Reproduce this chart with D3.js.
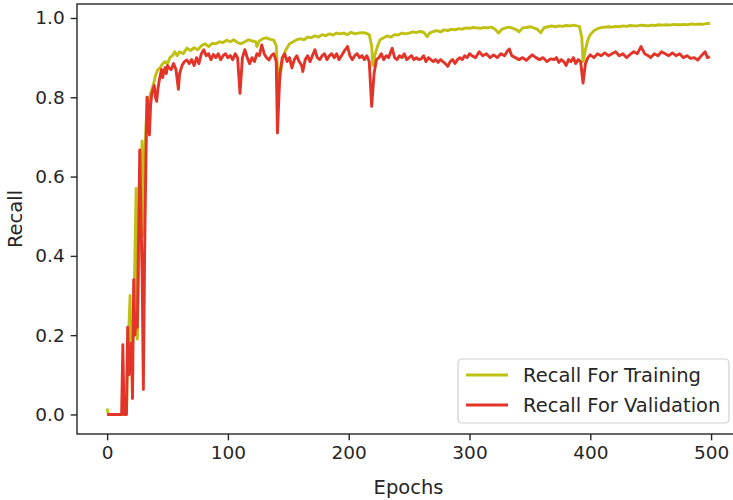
<!DOCTYPE html>
<html>

<head>
    <meta charset="utf-8">
    <style>
        body {
            margin: 0;
            background: #fff;
        }

        svg {
            font-family: 'DejaVu Sans', sans-serif;
        }

        .tick text {
            font-size: 18.5px;
            fill: #262626;
        }

        .tick line {
            stroke: #262626;
            stroke-width: 1.4px;
        }

        .axis-label {
            font-size: 19.5px;
            fill: #262626;
        }

        .legend-label {
            font-size: 19.5px;
            fill: #262626;
        }
    </style>
</head>

<body>
    <svg width="733" height="500"></svg>
</body>

<script src="https://d3js.org/d3.v7.min.js"></script>

<script>
    // recall per epoch
    let trainEpochs = [0, 1, 14, 15, 16, 17, 18, 19, 20, 21, 22, 23, 24, 25, 26, 27, 28, 29, 30, 31, 32, 33, 34, 35, 36, 37, 38, 39, 40,
        42, 44, 46, 48, 50, 52, 54, 56, 58, 60, 63, 66, 69, 72, 75, 78, 81, 84, 87, 90, 93, 96, 99, 102, 105, 108, 111, 114, 117, 120,
        123, 124, 126, 129, 132, 135, 138, 140, 142, 144, 146, 148, 151, 154, 157, 160, 163, 166, 169, 172, 175, 178, 181, 184, 187,
        190, 193, 196, 199, 202, 205, 208, 211, 214, 217, 219, 220, 222, 224, 226, 229, 232, 235, 238, 241, 244, 247, 250, 253, 256,
        259, 262, 265, 267, 270, 273, 276, 279, 282, 285, 288, 291, 294, 297, 300, 303, 306, 309, 312, 315, 318, 321, 324, 327, 330,
        333, 336, 339, 341, 344, 347, 350, 353, 356, 359, 362, 365, 368, 371, 374, 377, 380, 383, 386, 389, 391, 393, 394, 396, 398,
        400, 403, 406, 409, 412, 415, 418, 421, 424, 427, 430, 433, 436, 439, 442, 445, 448, 451, 454, 457, 460, 463, 466, 469, 472,
        475, 478, 481, 484, 487, 490, 493, 496, 499]
    let trainRecall = [0.015, 0.0, 0.0, 0.05, 0.0, 0.15, 0.22, 0.30, 0.12, 0.18, 0.25, 0.40, 0.57, 0.19, 0.35, 0.50, 0.62, 0.69, 0.45, 0.62, 0.72, 0.78, 0.80, 0.79, 0.81, 0.82, 0.83, 0.84, 0.855,
        0.87, 0.875, 0.885, 0.89, 0.885, 0.90, 0.905, 0.915, 0.905, 0.915, 0.91, 0.924, 0.918, 0.925, 0.92, 0.93, 0.935, 0.928, 0.936, 0.935, 0.94, 0.938, 0.944, 0.94, 0.945, 0.938, 0.935, 0.94, 0.945, 0.942,
        0.94, 0.928, 0.942, 0.948, 0.95, 0.946, 0.944, 0.93, 0.82, 0.87, 0.905, 0.92, 0.935, 0.94, 0.945, 0.948, 0.945, 0.952, 0.95, 0.955, 0.952, 0.958, 0.955, 0.96, 0.957,
        0.962, 0.96, 0.962, 0.958, 0.964, 0.96, 0.962, 0.963, 0.962, 0.958, 0.93, 0.88, 0.91, 0.93, 0.945, 0.95, 0.955, 0.952, 0.958, 0.957, 0.962, 0.96, 0.962, 0.965, 0.963,
        0.966, 0.964, 0.953, 0.962, 0.966, 0.968, 0.965, 0.97, 0.968, 0.972, 0.97, 0.973, 0.972, 0.975, 0.974, 0.976, 0.975, 0.974, 0.976, 0.975, 0.977, 0.972, 0.962, 0.972, 0.975,
        0.977, 0.974, 0.97, 0.965, 0.975, 0.976, 0.978, 0.975, 0.972, 0.963, 0.976, 0.978, 0.98, 0.978, 0.98, 0.979, 0.981, 0.98, 0.982, 0.98, 0.979, 0.95, 0.89, 0.92, 0.945,
        0.958, 0.968, 0.973, 0.976, 0.977, 0.978, 0.977, 0.979, 0.978, 0.98, 0.979, 0.981, 0.98, 0.98, 0.982, 0.981, 0.98, 0.982, 0.981, 0.983, 0.982, 0.983, 0.982, 0.984, 0.983,
        0.983, 0.984, 0.983, 0.985, 0.984, 0.985, 0.984, 0.986, 0.986]

    let valEpochs = [0, 12, 13, 14, 15, 16, 17, 18, 19, 20, 21, 22, 23, 24, 25, 26, 27, 28, 29, 30, 31, 32, 33, 34, 35, 36, 37, 38, 39, 40,
        41, 42, 43, 44, 45, 46, 47, 48, 49, 50, 51, 53, 55, 57, 59, 60, 62, 64, 66, 68, 70, 72, 74, 76, 78, 80, 82, 84, 86, 88, 90, 92,
        94, 96, 98, 100, 102, 104, 106, 108, 110, 112, 114, 116, 118, 120, 122, 124, 126, 128, 130, 132, 134, 136, 138, 140, 141, 143,
        145, 147, 149, 151, 153, 155, 157, 159, 161, 162, 164, 166, 168, 170, 172, 174, 176, 178, 180, 182, 184, 186, 188, 190, 192, 194,
        196, 199, 201, 203, 205, 207, 209, 211, 213, 215, 217, 219, 221, 223, 225, 227, 229, 231, 233, 236, 238, 240, 242, 244, 246, 248,
        250, 252, 254, 256, 258, 260, 262, 264, 266, 268, 270, 272, 274, 276, 278, 280, 282, 284, 286, 288, 290, 292, 294, 296, 298, 300,
        302, 305, 308, 311, 314, 317, 320, 323, 326, 329, 331, 333, 335, 338, 341, 344, 347, 350, 352, 355, 358, 361, 364, 367, 370, 372,
        374, 376, 378, 380, 382, 384, 386, 388, 390, 392, 394, 396, 398, 400, 403, 406, 409, 412, 415, 418, 421, 424, 427, 430, 433, 436,
        439, 442, 445, 448, 450, 453, 456, 459, 462, 465, 468, 471, 474, 477, 480, 483, 486, 489, 492, 495, 497, 499]
    let valRecall = [0.0, 0.0, 0.176, 0.0, 0.0, 0.0, 0.22, 0.10, 0.12, 0.18, 0.04, 0.34, 0.20, 0.25, 0.22, 0.45, 0.667, 0.50, 0.35, 0.063, 0.40, 0.62, 0.80, 0.78, 0.705, 0.78, 0.81, 0.82, 0.83, 0.80,
        0.79, 0.82, 0.84, 0.855, 0.87, 0.85, 0.865, 0.875, 0.86, 0.88, 0.875, 0.87, 0.885, 0.87, 0.82, 0.86, 0.88, 0.89, 0.894, 0.885, 0.895, 0.88, 0.90, 0.885, 0.91, 0.92, 0.905, 0.91, 0.895, 0.908, 0.90, 0.91,
        0.895, 0.905, 0.91, 0.90, 0.905, 0.895, 0.91, 0.90, 0.81, 0.90, 0.92, 0.90, 0.885, 0.90, 0.89, 0.91, 0.905, 0.932, 0.91, 0.90, 0.894, 0.905, 0.91, 0.89, 0.71, 0.86,
        0.90, 0.91, 0.89, 0.90, 0.874, 0.895, 0.905, 0.89, 0.88, 0.865, 0.895, 0.905, 0.89, 0.905, 0.92, 0.90, 0.895, 0.905, 0.91, 0.895, 0.905, 0.91, 0.90, 0.91, 0.895, 0.905,
        0.915, 0.928, 0.905, 0.895, 0.905, 0.91, 0.90, 0.905, 0.895, 0.905, 0.89, 0.777, 0.86, 0.895, 0.90, 0.91, 0.895, 0.905, 0.90, 0.924, 0.90, 0.895, 0.905, 0.90, 0.91, 0.895,
        0.90, 0.905, 0.895, 0.90, 0.895, 0.897, 0.905, 0.89, 0.90, 0.895, 0.89, 0.895, 0.888, 0.895, 0.89, 0.885, 0.878, 0.89, 0.895, 0.885, 0.895, 0.90, 0.895, 0.905, 0.90, 0.91,
        0.905, 0.90, 0.915, 0.905, 0.91, 0.90, 0.907, 0.90, 0.91, 0.905, 0.915, 0.922, 0.905, 0.90, 0.895, 0.90, 0.893, 0.902, 0.907, 0.90, 0.895, 0.90, 0.89, 0.897, 0.895, 0.90,
        0.888, 0.895, 0.89, 0.88, 0.895, 0.89, 0.90, 0.885, 0.895, 0.89, 0.836, 0.885, 0.90, 0.907, 0.90, 0.91, 0.905, 0.912, 0.905, 0.91, 0.915, 0.905, 0.91, 0.90, 0.908, 0.915,
        0.91, 0.928, 0.91, 0.905, 0.90, 0.91, 0.905, 0.915, 0.91, 0.905, 0.912, 0.905, 0.91, 0.90, 0.905, 0.898, 0.90, 0.894, 0.905, 0.915, 0.90, 0.903]

    let xTicks = [0, 100, 200, 300, 400, 500]
    let yTicks = [0.0, 0.2, 0.4, 0.6, 0.8, 1.0]
    let seriesNames = ["Recall For Training", "Recall For Validation"]
    let seriesColors = ["#c0c012", "#e3342a"]

    let svg = d3.select("svg")

    // axes box in pixels (right edge runs past the picture, like the original crop)
    let box = { left: 77, right: 740, top: 4, bottom: 434 }

    let x = d3.scaleLinear()
        .domain([-24.95, 523.95])
        .range([box.left, box.right])

    let y = d3.scaleLinear()
        .domain([-0.0493, 1.0353])
        .range([box.bottom, box.top])

    let series = [
        { name: seriesNames[0], values: trainEpochs.map((e, i) => ({ e: e, v: trainRecall[i] })) },
        { name: seriesNames[1], values: valEpochs.map((e, i) => ({ e: e, v: valRecall[i] })) }
    ]

    let color = d3.scaleOrdinal()
        .domain(seriesNames)
        .range(seriesColors)

    svg.append("clipPath")
        .attr("id", "plot-clip")
        .append("rect")
        .attr("x", box.left)
        .attr("y", box.top)
        .attr("width", box.right - box.left)
        .attr("height", box.bottom - box.top)

    let line = d3.line()
        .x(d => x(d.e))
        .y(d => y(d.v))

    svg.append("g")
        .attr("clip-path", "url(#plot-clip)")
        .selectAll("path")
        .data(series)
        .join("path")
        .attr("fill", "none")
        .attr("stroke", d => color(d.name))
        .attr("stroke-width", 2.9)
        .attr("stroke-linejoin", "round")
        .attr("d", d => line(d.values))

    // frame
    svg.append("rect")
        .attr("x", box.left)
        .attr("y", box.top)
        .attr("width", box.right - box.left)
        .attr("height", box.bottom - box.top)
        .attr("fill", "none")
        .attr("stroke", "#262626")
        .attr("stroke-width", 1.4)

    svg.append("g")
        .attr("class", "x axis")
        .attr("transform", `translate(0, ${box.bottom})`)
        .call(d3.axisBottom(x).tickValues(xTicks).tickSize(6.3).tickPadding(6).tickFormat(d3.format("d")))
        .call(g => g.select(".domain").remove())
        .call(g => g.selectAll("text").attr("font-family", "'DejaVu Sans', sans-serif"))

    svg.append("g")
        .attr("class", "y axis")
        .attr("transform", `translate(${box.left}, 0)`)
        .call(d3.axisLeft(y).tickValues(yTicks).tickSize(6.3).tickPadding(6).tickFormat(d3.format(".1f")))
        .call(g => g.select(".domain").remove())
        .call(g => g.selectAll("text").attr("font-family", "'DejaVu Sans', sans-serif"))

    svg.append("text")
        .attr("class", "axis-label")
        .attr("x", (box.left + box.right) / 2)
        .attr("y", 494)
        .attr("text-anchor", "middle")
        .text("Epochs")

    svg.append("text")
        .attr("class", "axis-label")
        .attr("transform", `translate(22, ${(box.top + box.bottom) / 2}) rotate(-90)`)
        .attr("text-anchor", "middle")
        .text("Recall")

    // legend, lower right
    let legend = svg.append("g")
        .attr("transform", "translate(458, 359)")

    legend.append("rect")
        .attr("width", 271)
        .attr("height", 64)
        .attr("rx", 4)
        .attr("fill", "#fff")
        .attr("fill-opacity", 0.8)
        .attr("stroke", "#d0d0d0")
        .attr("stroke-width", 1.2)

    let rowH = 30
    legend.selectAll("line")
        .data(seriesNames)
        .join("line")
        .attr("x1", 8)
        .attr("x2", 50)
        .attr("y1", (d, i) => 16 + i * rowH)
        .attr("y2", (d, i) => 16 + i * rowH)
        .attr("stroke", d => color(d))
        .attr("stroke-width", 2.9)

    legend.selectAll("text")
        .data(seriesNames)
        .join("text")
        .attr("class", "legend-label")
        .attr("x", 65)
        .attr("y", (d, i) => 16 + i * rowH)
        .attr("dy", "0.35em")
        .text(d => d)
</script>

</html>
